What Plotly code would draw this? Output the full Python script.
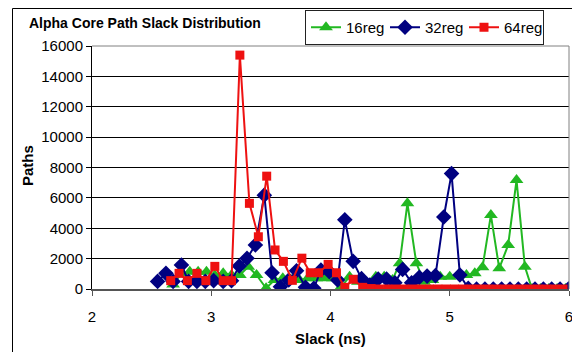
import plotly.graph_objects as go

# ---- data ----
x16 = [2.68, 2.75, 2.82, 2.89, 2.96, 3.03, 3.10, 3.17, 3.24, 3.31, 3.38, 3.46, 3.53, 3.60,
       3.67, 3.74, 3.81, 3.88, 3.95, 4.02, 4.09, 4.16, 4.23, 4.30, 4.38, 4.45, 4.52, 4.58,
       4.645, 4.72, 4.785, 4.855, 4.92, 5.00, 5.07, 5.14, 5.21, 5.275, 5.345, 5.415, 5.49,
       5.56, 5.63, 5.69, 5.76, 5.83, 5.90, 5.97]
y16 = [300, 1030, 1140, 1140, 1140, 900, 1030, 920, 920, 1470, 920, 50, 590, 700,
       590, 590, 700, 700, 700, 700, 150, 810, 480, 375, 810, 810, 600, 1690,
       5640, 1690, 480, 600, 810, 810, 900, 920, 1030, 1430, 4870, 1360, 2900,
       7170, 1470, 0, 0, 0, 0, 0]

x32 = [2.55, 2.62, 2.68, 2.75, 2.81, 2.88, 2.95, 3.02, 3.10, 3.17, 3.235, 3.30, 3.37,
       3.445, 3.51, 3.58, 3.65, 3.715, 3.79, 3.86, 3.92, 3.99, 4.06, 4.12, 4.19, 4.26,
       4.33, 4.40, 4.47, 4.54, 4.605, 4.68, 4.745, 4.81, 4.88, 4.95, 5.015, 5.085, 5.155,
       5.225, 5.295, 5.365, 5.435, 5.505, 5.575, 5.645, 5.715, 5.785, 5.855, 5.925, 5.995]
y32 = [500, 1030, 500, 1580, 500, 500, 500, 550, 500, 550, 1510, 2020, 2900,
       6180, 1070, 150, 590, 1200, 110, 50, 1250, 1140, 590, 4560, 1820, 680,
       260, 660, 660, 410, 1290, 410, 770, 850, 880, 4740, 7600, 920, 50,
       0, 0, 0, 0, 0, 0, 0, 0, 0, 0, 0, 0]

x64 = [2.66, 2.73, 2.80, 2.88, 2.955, 3.03, 3.10, 3.17, 3.24, 3.32, 3.395, 3.465, 3.535,
       3.605, 3.68, 3.76, 3.83, 3.90, 3.98, 4.05, 4.12, 4.19, 4.27, 4.34, 4.41, 4.48,
       4.55, 4.62, 4.69, 4.76, 4.83, 4.90, 4.97, 5.04, 5.11, 5.18, 5.25, 5.32, 5.39,
       5.46, 5.53, 5.60, 5.67, 5.74, 5.81, 5.88, 5.95]
y64 = [550, 1030, 550, 1030, 550, 1490, 550, 550, 15400, 5640, 3440, 7430, 2570,
       1820, 570, 2030, 1070, 1070, 1620, 1070, 110, 640, 110, 30, 0, 0,
       0, 0, 0, 0, 0, 0, 0, 0, 0, 0, 0, 0, 0,
       0, 0, 0, 0, 0, 0, 0, 0]

names = ["16reg", "32reg", "64reg"]
colors = ["#22b822", "#000080", "#ee1111"]
symbols = ["triangle-up", "diamond", "square"]
msizes = [12, 12, 9]
xs = [x16, x32, x64]
ys = [y16, y32, y64]

xticks = [2, 3, 4, 5, 6]
yticks = list(range(0, 16001, 2000))

FONT = "Liberation Sans, Arial, sans-serif"

fig = go.Figure()
for n, c, s, ms, xv, yv in zip(names, colors, symbols, msizes, xs, ys):
    fig.add_trace(go.Scatter(
        x=xv, y=yv, name=n, mode="lines+markers",
        line=dict(color=c, width=2),
        marker=dict(symbol=s, size=ms, color=c, line=dict(width=0)),
    ))

L, R, T, B = 92, 3, 46, 63
W, H = 572, 352
pw, ph = W - L - R, H - T - B

def px(xp):
    return (xp - L) / pw

def py(yp):
    return (H - B - yp) / ph

fig.update_layout(
    width=W, height=H,
    margin=dict(l=L, r=R, t=T, b=B, pad=0, autoexpand=False),
    paper_bgcolor="white", plot_bgcolor="white",
    font=dict(family=FONT, size=15, color="black"),
    showlegend=True,
    legend=dict(
        orientation="h", x=px(305), y=py(10), xanchor="left", yanchor="top",
        bordercolor="#222222", borderwidth=1, bgcolor="white",
        font=dict(family=FONT, size=15, color="black"),
        itemwidth=30, entrywidth=34, entrywidthmode="pixels",
    ),
    xaxis=dict(
        range=[2, 6], tickvals=xticks, ticktext=[str(v) for v in xticks],
        showgrid=False, zeroline=False, automargin=False,
        showline=True, linecolor="#555555", linewidth=2,
        ticks="outside", ticklen=5, tickcolor="#555555",
        ticklabelstandoff=8, ticklabeloverflow="allow",
        tickfont=dict(family=FONT, size=15),
    ),
    yaxis=dict(
        range=[0, 16000], tickvals=yticks, tickformat="d",
        showgrid=True, gridcolor="black", gridwidth=1,
        zeroline=False, automargin=False,
        showline=True, linecolor="black", linewidth=1,
        ticks="outside", ticklen=5, tickcolor="black",
        tickfont=dict(family=FONT, size=15),
    ),
    shapes=[
        # outer chart border (left & top visible)
        dict(type="line", xref="paper", yref="paper",
             x0=px(12.5), x1=px(12.5), y0=py(352), y1=py(8.5),
             line=dict(color="black", width=1)),
        dict(type="line", xref="paper", yref="paper",
             x0=px(12.5), x1=px(572), y0=py(8.5), y1=py(8.5),
             line=dict(color="black", width=1)),
        # plot area frame top/right
        dict(type="line", xref="paper", yref="paper", x0=0, x1=1, y0=1, y1=1,
             line=dict(color="#808080", width=1)),
        dict(type="line", xref="paper", yref="paper", x0=1, x1=1, y0=0, y1=1,
             line=dict(color="#808080", width=1)),
    ],
    annotations=[
        dict(text="<b>Alpha Core Path Slack Distribution</b>", xref="paper", yref="paper",
             x=px(145), y=py(23), xanchor="center", yanchor="middle", showarrow=False,
             font=dict(family=FONT, size=14, color="black")),
        dict(text="<b>Paths</b>", xref="paper", yref="paper", textangle=-90,
             x=px(27), y=py(166), xanchor="center", yanchor="middle", showarrow=False,
             font=dict(family=FONT, size=15, color="black")),
        dict(text="<b>Slack (ns)</b>", xref="paper", yref="paper",
             x=px(330), y=py(338), xanchor="center", yanchor="middle", showarrow=False,
             font=dict(family=FONT, size=15, color="black")),
    ],
)

fig.write_html("out.html", config={"displayModeBar": False},
               post_script="document.body.style.margin='0';")
